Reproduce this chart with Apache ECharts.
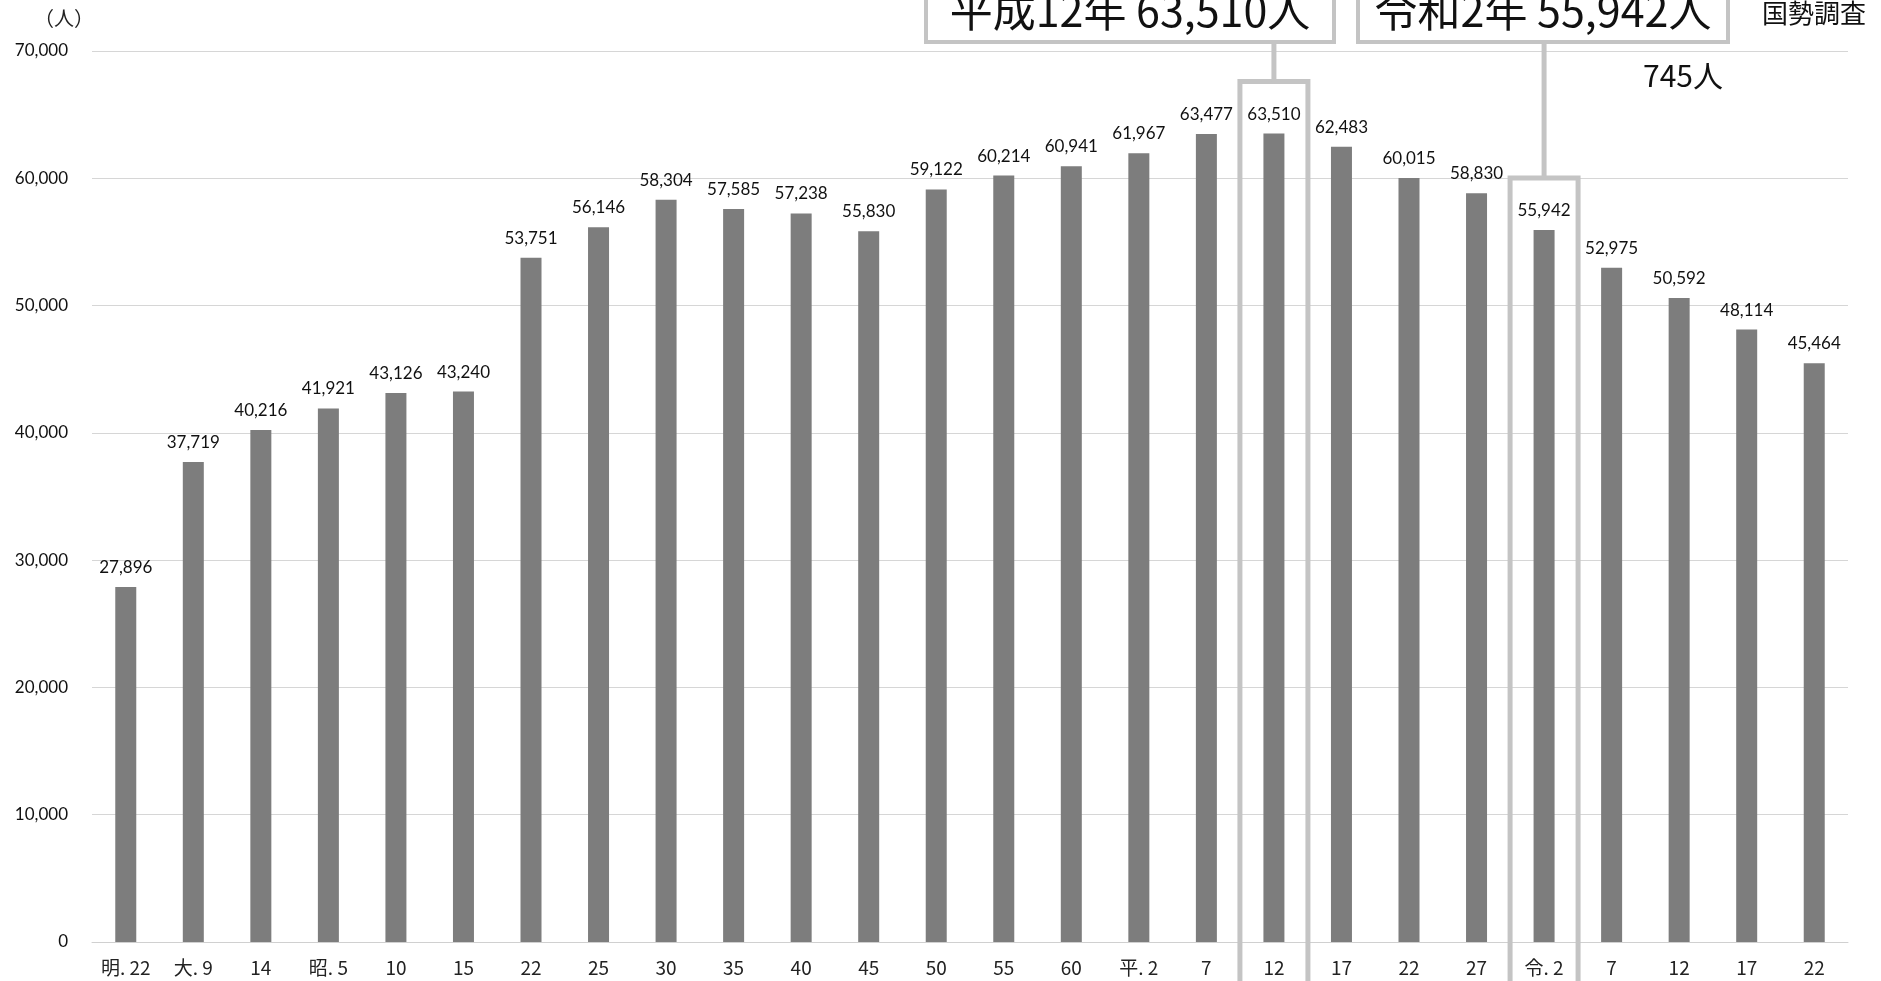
<!DOCTYPE html>
<html>
<head>
<meta charset="utf-8">
<script src="https://cdn.jsdelivr.net/npm/echarts@6/dist/echarts.min.js"></script>
<style>
  html, body { margin: 0; padding: 0; background: #fff; }
  #main { width: 1881px; height: 981px; }
</style>
</head>
<body>
<div id="main"></div>
<script>
// 国勢調査 人口の推移
const categories = ['明. 22', '大. 9', '14', '昭. 5', '10', '15', '22', '25', '30', '35', '40', '45', '50',
  '55', '60', '平. 2', '7', '12', '17', '22', '27', '令. 2', '7', '12', '17', '22'];
const population = [27896, 37719, 40216, 41921, 43126, 43240, 53751, 56146, 58304, 57585, 57238, 55830, 59122,
  60214, 60941, 61967, 63477, 63510, 62483, 60015, 58830, 55942, 52975, 50592, 48114, 45464];
const yMin = 0, yMax = 70000, yStep = 10000;

// 注記（強調する棒とそのラベル）
const highlights = [
  { index: 17, text: '平成12年 63,510人', boxLeft: 926, boxRight: 1334 },
  { index: 21, text: '令和2年 55,942人', boxLeft: 1358, boxRight: 1728 }
];

const NUM = 'Lato, "Noto Sans CJK JP", sans-serif';
const NARROW = '"Liberation Sans Narrow", "Noto Sans CJK JP", sans-serif';
const BORDER = '#c4c4c4';

var myChart = echarts.init(document.getElementById('main'));

var option = {
  animation: false,
  backgroundColor: '#fff',
  grid: { left: 92, right: 33, top: 51, bottom: 39, containLabel: false },
  xAxis: {
    type: 'category',
    data: categories,
    axisLine: { lineStyle: { color: '#d0d0d0', width: 1 } },
    axisTick: { show: false },
    axisLabel: { interval: 0, margin: 16, fontSize: 19, color: '#222', fontFamily: NARROW }
  },
  yAxis: {
    type: 'value',
    min: yMin,
    max: yMax,
    interval: yStep,
    axisLine: { show: false },
    axisTick: { show: false },
    splitLine: { lineStyle: { color: '#d6d6d6', width: 1 } },
    axisLabel: {
      margin: 24, fontSize: 17, color: '#111', fontFamily: NUM,
      formatter: v => v.toLocaleString('en-US')
    }
  },
  series: [{
    type: 'bar',
    data: population,
    barWidth: 21,
    itemStyle: { color: '#7d7d7d' },
    label: {
      show: true,
      position: 'top',
      distance: 11,
      fontSize: 17,
      color: '#111',
      fontFamily: NUM,
      formatter: p => p.value.toLocaleString('en-US')
    }
  }]
};

myChart.setOption(option);

// 注記の枠と線
var graphics = [
  { type: 'text', left: 34, top: 8, style: { text: '（人）', fontSize: 20, fill: '#222', fontFamily: '"Noto Sans CJK JP"' } },
  { type: 'text', left: 1762, top: 0, style: { text: '国勢調査', fontSize: 26, fill: '#111', fontFamily: '"Noto Sans CJK JP"' } },
  { type: 'text', left: 1643, top: 61, style: { text: '745人', fontSize: 30, fill: '#111', fontFamily: NARROW } }
];

highlights.forEach(function (h) {
  var cx = myChart.convertToPixel({ xAxisIndex: 0 }, h.index);
  var barTop = myChart.convertToPixel({ yAxisIndex: 0 }, population[h.index]);
  var top = barTop - 52;
  var boxBottom = 42;
  graphics.push({
    type: 'rect', z: 10,
    shape: { x: cx - 34, y: top, width: 68, height: 981 - top + 5 },
    style: { fill: 'none', stroke: BORDER, lineWidth: 5 }
  });
  graphics.push({
    type: 'line', z: 10,
    shape: { x1: cx, y1: boxBottom, x2: cx, y2: top },
    style: { stroke: BORDER, lineWidth: 5 }
  });
  graphics.push({
    type: 'rect', z: 11,
    shape: { x: h.boxLeft, y: -20, width: h.boxRight - h.boxLeft, height: boxBottom + 20 },
    style: { fill: '#fff', stroke: BORDER, lineWidth: 4 }
  });
  graphics.push({
    type: 'text', z: 12,
    x: (h.boxLeft + h.boxRight) / 2, y: 11,
    style: {
      text: h.text, fontSize: 43, fill: '#111', fontFamily: NARROW,
      align: 'center', verticalAlign: 'middle'
    }
  });
});

myChart.setOption({ graphic: graphics });
</script>
</body>
</html>
